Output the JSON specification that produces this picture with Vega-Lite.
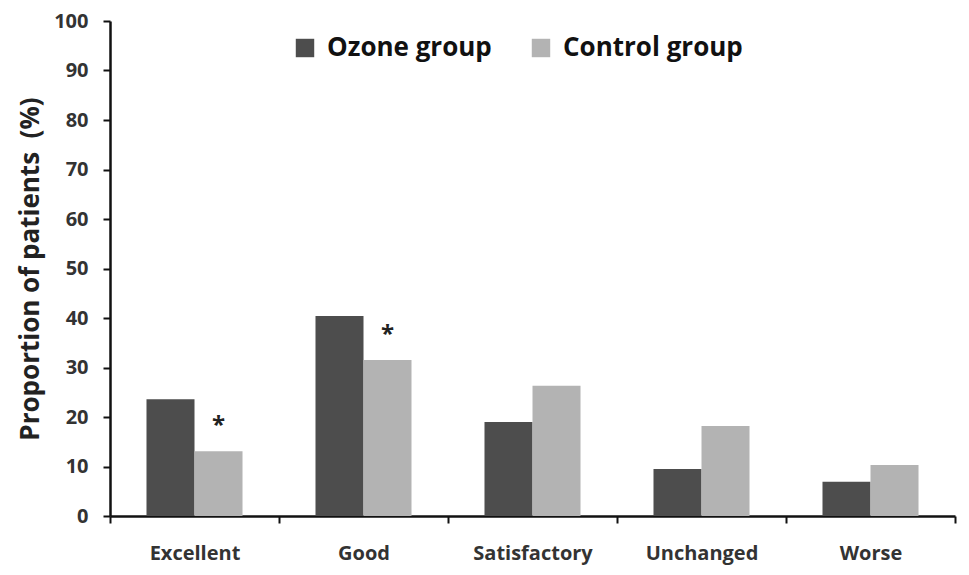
{
  "$schema": "https://vega.github.io/schema/vega-lite/v6.json",
  "width": 845,
  "height": 495,
  "autosize": "none",
  "padding": {"left": 110, "top": 21, "right": 14, "bottom": 59},
  "background": "white",
  "config": {
    "view": {"stroke": null},
    "font": "Open Sans"
  },
  "data": {
    "values": [
      {"category": "Excellent", "group": "Ozone group", "value": 23.6, "sig": ""},
      {"category": "Excellent", "group": "Control group", "value": 13.1, "sig": "*"},
      {"category": "Good", "group": "Ozone group", "value": 40.4, "sig": ""},
      {"category": "Good", "group": "Control group", "value": 31.5, "sig": "*"},
      {"category": "Satisfactory", "group": "Ozone group", "value": 19.0, "sig": ""},
      {"category": "Satisfactory", "group": "Control group", "value": 26.3, "sig": ""},
      {"category": "Unchanged", "group": "Ozone group", "value": 9.5, "sig": ""},
      {"category": "Unchanged", "group": "Control group", "value": 18.2, "sig": ""},
      {"category": "Worse", "group": "Ozone group", "value": 6.9, "sig": ""},
      {"category": "Worse", "group": "Control group", "value": 10.3, "sig": ""}
    ]
  },
  "encoding": {
    "x": {
      "field": "category",
      "type": "nominal",
      "sort": ["Excellent", "Good", "Satisfactory", "Unchanged", "Worse"],
      "scale": {"paddingInner": 0, "paddingOuter": 0},
      "axis": {
        "title": null,
        "labelAngle": 0,
        "labelFontSize": 20,
        "labelFont": "Open Sans",
        "labelFontWeight": "bold",
        "labelColor": "#333333",
        "labelPadding": 20,
        "tickBand": "extent",
        "tickSize": 7,
        "tickWidth": 2,
        "tickColor": "#111111",
        "domainColor": "#111111",
        "domainWidth": 2.5
      }
    },
    "xOffset": {
      "field": "group",
      "type": "nominal",
      "sort": ["Ozone group", "Control group"],
      "scale": {"paddingInner": 0, "paddingOuter": 0.76}
    },
    "y": {
      "field": "value",
      "type": "quantitative",
      "scale": {"domain": [0, 100], "nice": false},
      "axis": {
        "title": "Proportion of patients\u00a0\u00a0(%)",
        "titleFontSize": 26,
        "titleFont": "Open Sans",
        "titleFontWeight": "bold",
        "titleColor": "#222222",
        "titlePadding": 10,
        "values": [0, 10, 20, 30, 40, 50, 60, 70, 80, 90, 100],
        "labelFontSize": 20,
        "labelFont": "Open Sans",
        "labelFontWeight": "bold",
        "labelColor": "#333333",
        "labelPadding": 15,
        "tickSize": 7,
        "tickWidth": 2,
        "tickColor": "#111111",
        "domainColor": "#111111",
        "domainWidth": 2.5,
        "grid": false
      }
    }
  },
  "layer": [
    {
      "mark": {"type": "bar"},
      "encoding": {
        "color": {
          "field": "group",
          "type": "nominal",
          "sort": ["Ozone group", "Control group"],
          "scale": {"domain": ["Ozone group", "Control group"], "range": ["#4d4d4d", "#b3b3b3"]},
          "legend": {
            "title": null,
            "orient": "none",
            "legendX": 182,
            "legendY": 14,
            "direction": "horizontal",
            "symbolType": "square",
            "symbolSize": 340,
            "symbolStrokeWidth": 0,
            "labelFontSize": 26,
            "labelFont": "Open Sans",
            "labelFontWeight": "bold",
            "labelColor": "#111111",
            "labelLimit": 400,
            "columnPadding": 36,
            "labelOffset": 9
          }
        }
      }
    },
    {
      "transform": [{"filter": "datum.sig != ''"}],
      "mark": {"type": "text", "fontSize": 24, "fontWeight": "bold", "baseline": "alphabetic", "dy": -18, "color": "#222222", "font": "Open Sans"},
      "encoding": {
        "text": {"field": "sig"}
      }
    }
  ]
}
